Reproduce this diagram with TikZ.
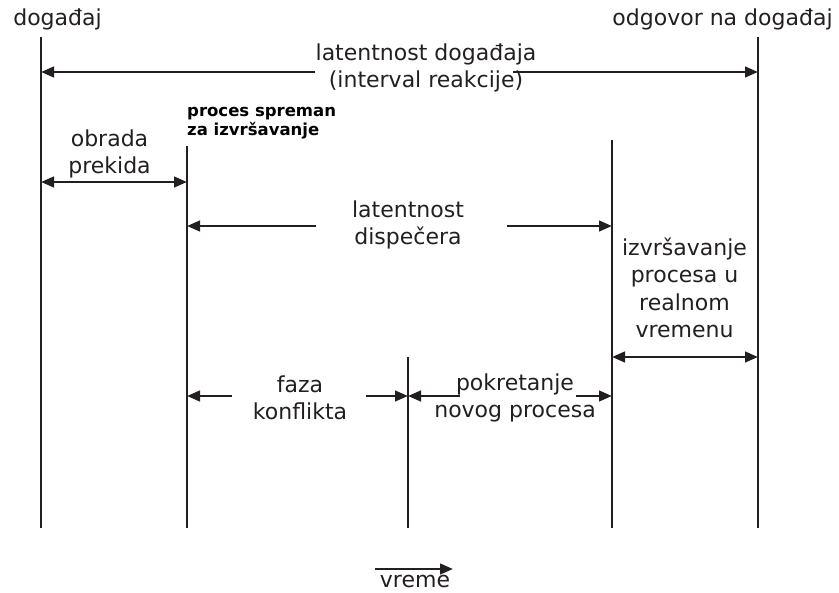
\documentclass[tikz,border=0pt]{standalone}
\usepackage{fontspec}
\setmainfont{DejaVu Sans}
\usetikzlibrary{arrows.meta}
\definecolor{ink}{HTML}{231F20}
\begin{document}
\begin{tikzpicture}[x=1pt,y=-1pt,
  vline/.style={draw=ink,line width=2.4pt},
  arr/.style={draw=ink,line width=2.8pt,-{Triangle[length=13pt,width=10.5pt]}},
  darr/.style={draw=ink,line width=2.8pt,{Triangle[length=13pt,width=10.5pt]}-{Triangle[length=13pt,width=10.5pt]}},
  lbl/.style={font=\fontsize{22}{27.5}\selectfont,text=ink,align=center,inner sep=0pt,anchor=base},
  blbl/.style={font=\bfseries\fontsize{16.5}{19}\selectfont,text=black,align=left,inner sep=0pt,anchor=base west}]
\useasboundingbox (0,0) rectangle (839,593);
% vertical line coordinates
\coordinate (a1) at (41,37);  \coordinate (a2) at (41,528);
\coordinate (b1) at (187,146); \coordinate (b2) at (187,528);
\coordinate (c1) at (408,357); \coordinate (c2) at (408,528);
\coordinate (d1) at (612,140); \coordinate (d2) at (612,528);
\coordinate (e1) at (758,37);  \coordinate (e2) at (758,528);
\draw[vline] (a1) -- (a2);
\draw[vline] (b1) -- (b2);
\draw[vline] (c1) -- (c2);
\draw[vline] (d1) -- (d2);
\draw[vline] (e1) -- (e2);
% labels
\node[lbl] (ev) at (57.5,26) {događaj};
\node[lbl] (resp) at (722.5,26) {odgovor na događaj};
\node[blbl] (ready) at (187,136) {proces spreman\\za izvršavanje};
% latentnost dogadjaja
\node[lbl] (lat) at (426,88) {latentnost događaja\\(interval reakcije)};
\coordinate (lat1) at (315,72); \coordinate (lat2) at (513,72);
\coordinate (la) at (41,72); \coordinate (le) at (758,72);
\draw[arr] (lat1) -- (la);
\draw[arr] (lat2) -- (le);
% obrada prekida
\node[lbl] (obr) at (109.5,174) {obrada\\prekida};
\coordinate (oa) at (41,182); \coordinate (ob) at (187,182);
\draw[darr] (oa) -- (ob);
% latentnost dispecera
\node[lbl] (disp) at (408,245) {latentnost\\dispečera};
\coordinate (dl1) at (316,226); \coordinate (dl2) at (507,226);
\coordinate (db) at (187,226); \coordinate (dd) at (612,226);
\draw[arr] (dl1) -- (db);
\draw[arr] (dl2) -- (dd);
% izvrsavanje
\node[lbl] (izv) at (684.5,338) {izvršavanje\\procesa u\\realnom\\vremenu};
\coordinate (id) at (612,357); \coordinate (ie) at (758,357);
\draw[darr] (id) -- (ie);
% faza konflikta
\node[lbl] (faza) at (300,420) {faza\\konflikta};
\coordinate (f1) at (232,396); \coordinate (f2) at (366,396);
\coordinate (fb) at (187,396); \coordinate (fc) at (408,396);
\draw[arr] (f1) -- (fb);
\draw[arr] (f2) -- (fc);
% pokretanje
\node[lbl] (pok) at (515,418) {pokretanje\\novog procesa};
\coordinate (p1) at (460,396); \coordinate (p2) at (576,396);
\coordinate (pc) at (408,396); \coordinate (pd) at (612,396);
\draw[arr] (p1) -- (pc);
\draw[arr] (p2) -- (pd);
% vreme
\coordinate (v1) at (375,569); \coordinate (v2) at (453,569);
\draw[arr] (v1) -- (v2);
\node[lbl] (vr) at (415,588) {vreme};
\end{tikzpicture}
\end{document}
